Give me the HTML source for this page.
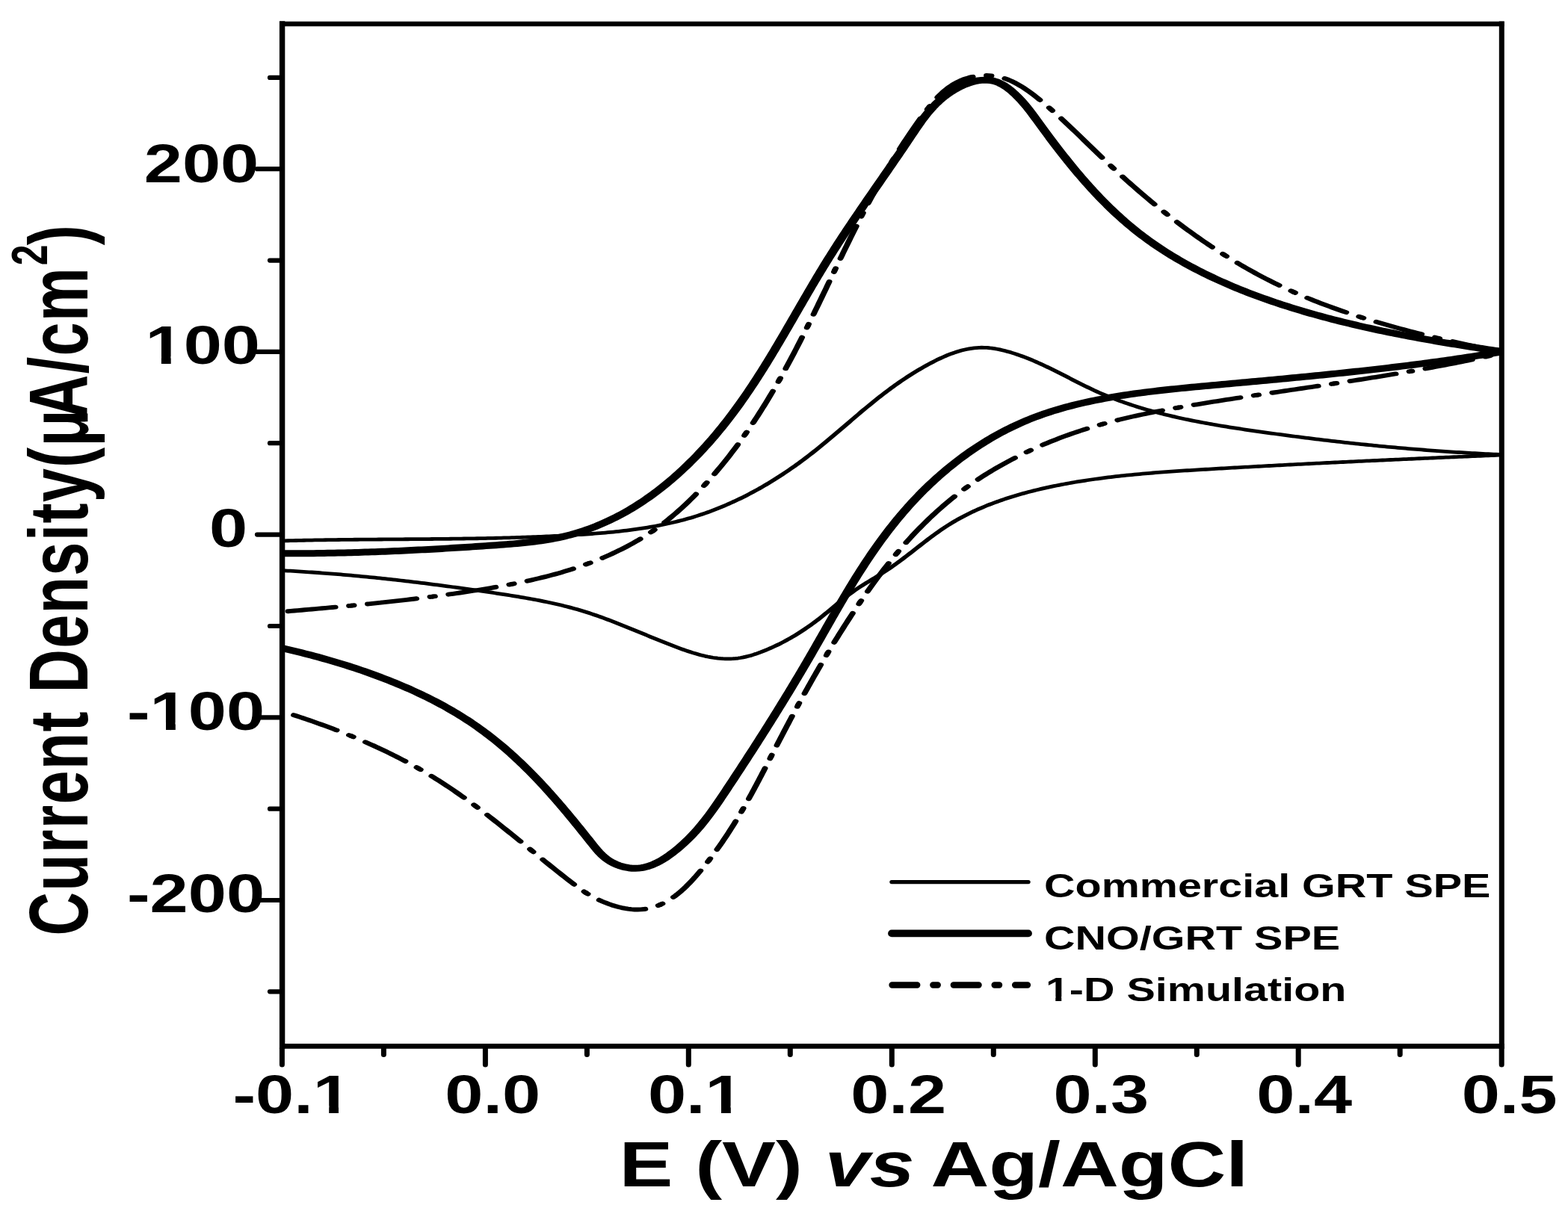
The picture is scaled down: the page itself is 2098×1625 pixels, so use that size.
<!DOCTYPE html><html><head><meta charset="utf-8"><style>html,body{margin:0;padding:0;background:#fff;overflow:hidden}svg{display:block}text{font-family:"Liberation Sans",Arial,sans-serif;font-weight:bold;fill:#000;font-kerning:none}</style></head><body>
<svg xmlns="http://www.w3.org/2000/svg" width="2098" height="1625" viewBox="0 0 2098 1625">
<rect width="2098" height="1625" fill="#fff"/>
<g stroke="#000" fill="none" stroke-linecap="square">
<line x1="377.6" y1="32" x2="2009.3" y2="32" stroke-width="6.4"/>
<line x1="377.6" y1="1400.3" x2="2009.3" y2="1400.3" stroke-width="6.8"/>
<line x1="377.6" y1="32" x2="377.6" y2="1400.3" stroke-width="7.4"/>
<line x1="2009.3" y1="32" x2="2009.3" y2="1400.3" stroke-width="7"/>
</g>
<g stroke="#000" fill="none" stroke-linecap="round">
<line x1="377.4" y1="1403" x2="377.4" y2="1425" stroke-width="7"/>
<line x1="649.4" y1="1403" x2="649.4" y2="1425" stroke-width="7"/>
<line x1="921.3" y1="1403" x2="921.3" y2="1425" stroke-width="7"/>
<line x1="1193.3" y1="1403" x2="1193.3" y2="1425" stroke-width="7"/>
<line x1="1465.3" y1="1403" x2="1465.3" y2="1425" stroke-width="7"/>
<line x1="1737.2" y1="1403" x2="1737.2" y2="1425" stroke-width="7"/>
<line x1="2009.2" y1="1403" x2="2009.2" y2="1425" stroke-width="7"/>
<line x1="513.4" y1="1403" x2="513.4" y2="1411.5" stroke-width="7"/>
<line x1="785.4" y1="1403" x2="785.4" y2="1411.5" stroke-width="7"/>
<line x1="1057.3" y1="1403" x2="1057.3" y2="1411.5" stroke-width="7"/>
<line x1="1329.3" y1="1403" x2="1329.3" y2="1411.5" stroke-width="7"/>
<line x1="1601.3" y1="1403" x2="1601.3" y2="1411.5" stroke-width="7"/>
<line x1="1873.2" y1="1403" x2="1873.2" y2="1411.5" stroke-width="7"/>
<line x1="344" y1="226.2" x2="377" y2="226.2" stroke-width="6.2"/>
<line x1="344" y1="470.9" x2="377" y2="470.9" stroke-width="6.2"/>
<line x1="344" y1="715.6" x2="377" y2="715.6" stroke-width="6.2"/>
<line x1="344" y1="960.3" x2="377" y2="960.3" stroke-width="6.2"/>
<line x1="344" y1="1205.0" x2="377" y2="1205.0" stroke-width="6.2"/>
<line x1="361" y1="103.9" x2="377" y2="103.9" stroke-width="6.2"/>
<line x1="361" y1="348.6" x2="377" y2="348.6" stroke-width="6.2"/>
<line x1="361" y1="593.2" x2="377" y2="593.2" stroke-width="6.2"/>
<line x1="361" y1="838.0" x2="377" y2="838.0" stroke-width="6.2"/>
<line x1="361" y1="1082.7" x2="377" y2="1082.7" stroke-width="6.2"/>
<line x1="361" y1="1327.3" x2="377" y2="1327.3" stroke-width="6.2"/>
</g>
<clipPath id="pc"><rect x="286.06" y="30" width="1236.14" height="1372"/></clipPath>
<g transform="scale(1.3200,1)"><g clip-path="url(#pc)" fill="none" stroke="#000" stroke-linejoin="round">
<path d="M286.32,723.96 L289.04,723.86 L291.77,723.76 L294.50,723.67 L297.22,723.58 L299.94,723.49 L302.67,723.41 L305.39,723.33 L308.11,723.25 L310.83,723.18 L313.54,723.11 L316.26,723.04 L318.98,722.97 L321.69,722.91 L324.41,722.85 L327.12,722.79 L329.83,722.74 L332.55,722.69 L335.26,722.64 L337.97,722.59 L340.68,722.54 L343.39,722.50 L346.10,722.45 L348.80,722.41 L351.51,722.37 L354.22,722.33 L356.92,722.30 L359.63,722.26 L362.33,722.23 L365.03,722.20 L367.74,722.17 L370.44,722.14 L373.14,722.11 L375.84,722.08 L378.54,722.05 L381.24,722.03 L383.94,722.00 L386.64,721.98 L389.34,721.95 L392.04,721.93 L394.74,721.90 L397.44,721.88 L400.13,721.86 L402.83,721.83 L405.53,721.81 L408.23,721.79 L410.92,721.76 L413.62,721.74 L416.31,721.72 L419.01,721.69 L421.70,721.67 L424.40,721.64 L427.09,721.61 L429.79,721.59 L432.48,721.56 L435.18,721.53 L437.87,721.50 L440.57,721.47 L443.26,721.43 L445.95,721.40 L448.65,721.36 L451.34,721.33 L454.04,721.29 L456.73,721.25 L459.43,721.21 L462.12,721.16 L464.81,721.12 L467.51,721.07 L470.20,721.02 L472.90,720.97 L475.59,720.92 L478.29,720.86 L480.98,720.80 L483.68,720.74 L486.38,720.68 L489.07,720.61 L491.77,720.54 L494.47,720.47 L497.16,720.40 L499.86,720.32 L502.56,720.24 L505.26,720.15 L507.95,720.07 L510.65,719.97 L513.35,719.88 L516.05,719.78 L518.75,719.68 L521.45,719.58 L524.15,719.47 L526.86,719.36 L529.56,719.24 L532.26,719.12 L534.96,718.99 L537.67,718.86 L540.37,718.73 L543.08,718.59 L545.78,718.45 L548.49,718.30 L551.20,718.15 L553.90,718.00 L556.61,717.84 L559.32,717.67 L562.03,717.50 L564.74,717.32 L567.46,717.14 L570.17,716.96 L572.88,716.77 L575.60,716.57 L578.31,716.37 L581.03,716.16 L583.74,715.94 L586.46,715.72 L589.18,715.49 L591.89,715.26 L594.61,715.01 L597.32,714.76 L600.04,714.50 L602.75,714.22 L605.46,713.94 L608.17,713.65 L610.88,713.34 L613.58,713.03 L616.28,712.70 L618.98,712.36 L621.68,712.01 L624.38,711.64 L627.07,711.26 L629.75,710.87 L632.44,710.46 L635.12,710.03 L637.79,709.59 L640.46,709.14 L643.13,708.66 L645.79,708.18 L648.44,707.67 L651.09,707.14 L653.74,706.60 L656.38,706.04 L659.01,705.46 L661.64,704.85 L664.26,704.23 L666.87,703.59 L669.47,702.93 L672.07,702.24 L674.66,701.53 L677.24,700.80 L679.82,700.05 L682.38,699.27 L684.94,698.47 L687.49,697.65 L690.03,696.80 L692.56,695.92 L695.08,695.02 L697.59,694.10 L700.10,693.14 L702.59,692.16 L705.07,691.15 L707.54,690.12 L710.00,689.06 L712.45,687.97 L714.89,686.86 L717.32,685.72 L719.74,684.56 L722.15,683.38 L724.55,682.17 L726.94,680.93 L729.32,679.68 L731.68,678.40 L734.04,677.09 L736.39,675.77 L738.72,674.42 L741.05,673.05 L743.36,671.66 L745.66,670.25 L747.96,668.82 L750.24,667.37 L752.51,665.90 L754.77,664.41 L757.02,662.90 L759.26,661.37 L761.49,659.82 L763.71,658.26 L765.91,656.67 L768.11,655.07 L770.29,653.45 L772.46,651.82 L774.63,650.16 L776.78,648.50 L778.92,646.81 L781.05,645.11 L783.16,643.40 L785.27,641.67 L787.36,639.93 L789.45,638.17 L791.52,636.40 L793.58,634.62 L795.63,632.82 L797.67,631.01 L799.70,629.19 L801.71,627.35 L803.71,625.50 L805.71,623.65 L807.69,621.78 L809.66,619.90 L811.61,618.01 L813.56,616.11 L815.49,614.20 L817.42,612.28 L819.33,610.36 L821.23,608.42 L823.12,606.48 L824.99,604.53 L826.86,602.57 L828.72,600.60 L830.57,598.63 L832.41,596.65 L834.25,594.67 L836.08,592.68 L837.90,590.69 L839.71,588.69 L841.52,586.69 L843.32,584.68 L845.12,582.68 L846.92,580.67 L848.71,578.65 L850.50,576.64 L852.29,574.62 L854.07,572.60 L855.86,570.59 L857.64,568.57 L859.43,566.55 L861.21,564.54 L862.99,562.52 L864.78,560.51 L866.57,558.49 L868.36,556.48 L870.15,554.48 L871.95,552.47 L873.75,550.47 L875.55,548.48 L877.36,546.49 L879.18,544.50 L881.00,542.52 L882.83,540.54 L884.66,538.57 L886.51,536.61 L888.36,534.65 L890.22,532.70 L892.09,530.76 L893.97,528.83 L895.86,526.91 L897.76,524.99 L899.67,523.09 L901.60,521.19 L903.54,519.31 L905.49,517.43 L907.45,515.57 L909.43,513.72 L911.42,511.88 L913.43,510.05 L915.45,508.24 L917.49,506.44 L919.55,504.65 L921.63,502.88 L923.72,501.12 L925.83,499.37 L927.96,497.65 L930.11,495.93 L932.28,494.24 L934.46,492.56 L936.68,490.89 L938.91,489.25 L941.16,487.62 L943.44,486.01 L945.74,484.43 L948.05,482.88 L950.39,481.36 L952.75,479.88 L955.13,478.44 L957.52,477.05 L959.94,475.72 L962.37,474.44 L964.81,473.22 L967.27,472.08 L969.75,471.00 L972.24,470.00 L974.74,469.09 L977.25,468.26 L979.78,467.52 L982.32,466.88 L984.87,466.34 L987.43,465.90 L989.99,465.57 L992.57,465.36 L995.15,465.27 L997.74,465.31 L1000.34,465.47 L1002.94,465.75 L1005.54,466.15 L1008.14,466.64 L1010.73,467.24 L1013.32,467.92 L1015.90,468.68 L1018.46,469.51 L1021.02,470.41 L1023.55,471.36 L1026.07,472.36 L1028.56,473.39 L1031.03,474.47 L1033.49,475.59 L1035.93,476.75 L1038.35,477.93 L1040.75,479.16 L1043.14,480.41 L1045.51,481.69 L1047.87,483.01 L1050.22,484.34 L1052.55,485.70 L1054.88,487.09 L1057.19,488.50 L1059.49,489.92 L1061.78,491.36 L1064.07,492.82 L1066.35,494.30 L1068.62,495.78 L1070.89,497.28 L1073.15,498.78 L1075.41,500.30 L1077.66,501.81 L1079.92,503.34 L1082.17,504.86 L1084.42,506.38 L1086.67,507.91 L1088.92,509.43 L1091.18,510.94 L1093.44,512.45 L1095.70,513.95 L1097.97,515.44 L1100.24,516.92 L1102.52,518.39 L1104.80,519.84 L1107.10,521.27 L1109.40,522.69 L1111.71,524.08 L1114.04,525.46 L1116.37,526.81 L1118.72,528.13 L1121.07,529.44 L1123.44,530.72 L1125.82,531.98 L1128.21,533.21 L1130.60,534.43 L1133.01,535.62 L1135.43,536.80 L1137.86,537.95 L1140.30,539.08 L1142.74,540.19 L1145.20,541.28 L1147.66,542.36 L1150.14,543.41 L1152.62,544.44 L1155.11,545.46 L1157.61,546.46 L1160.11,547.44 L1162.63,548.40 L1165.15,549.35 L1167.68,550.27 L1170.22,551.19 L1172.76,552.08 L1175.31,552.96 L1177.87,553.82 L1180.43,554.67 L1183.00,555.50 L1185.58,556.32 L1188.16,557.13 L1190.75,557.92 L1193.34,558.69 L1195.94,559.45 L1198.54,560.20 L1201.15,560.94 L1203.77,561.66 L1206.39,562.37 L1209.01,563.07 L1211.64,563.76 L1214.27,564.44 L1216.90,565.10 L1219.54,565.76 L1222.18,566.40 L1224.83,567.03 L1227.48,567.66 L1230.13,568.27 L1232.78,568.88 L1235.44,569.47 L1238.10,570.06 L1240.76,570.64 L1243.43,571.21 L1246.09,571.78 L1248.76,572.34 L1251.43,572.89 L1254.10,573.43 L1256.77,573.97 L1259.44,574.50 L1262.11,575.02 L1264.79,575.54 L1267.46,576.06 L1270.13,576.57 L1272.81,577.07 L1275.48,577.58 L1278.16,578.07 L1280.83,578.57 L1283.50,579.06 L1286.17,579.55 L1288.84,580.03 L1291.51,580.51 L1294.18,580.99 L1296.85,581.46 L1299.52,581.94 L1302.18,582.41 L1304.85,582.87 L1307.52,583.33 L1310.18,583.79 L1312.85,584.25 L1315.51,584.70 L1318.18,585.15 L1320.84,585.59 L1323.50,586.04 L1326.17,586.47 L1328.83,586.91 L1331.49,587.34 L1334.16,587.77 L1336.82,588.20 L1339.48,588.62 L1342.14,589.04 L1344.81,589.45 L1347.47,589.86 L1350.13,590.27 L1352.79,590.68 L1355.46,591.08 L1358.12,591.48 L1360.78,591.87 L1363.44,592.26 L1366.11,592.65 L1368.77,593.03 L1371.44,593.41 L1374.10,593.79 L1376.76,594.16 L1379.43,594.53 L1382.10,594.89 L1384.76,595.25 L1387.43,595.61 L1390.10,595.97 L1392.76,596.32 L1395.43,596.66 L1398.10,597.01 L1400.77,597.35 L1403.44,597.68 L1406.11,598.01 L1408.78,598.34 L1411.46,598.67 L1414.13,598.99 L1416.80,599.30 L1419.48,599.62 L1422.16,599.93 L1424.83,600.23 L1427.51,600.53 L1430.19,600.83 L1432.87,601.12 L1435.55,601.41 L1438.24,601.70 L1440.92,601.98 L1443.61,602.26 L1446.29,602.53 L1448.98,602.80 L1451.67,603.07 L1454.36,603.33 L1457.05,603.59 L1459.75,603.84 L1462.44,604.09 L1465.14,604.33 L1467.84,604.58 L1470.54,604.81 L1473.24,605.05 L1475.94,605.27 L1478.65,605.50 L1481.35,605.72 L1484.06,605.94 L1486.77,606.15 L1489.48,606.36 L1492.20,606.56 L1494.91,606.76 L1497.63,606.96 L1500.35,607.15 L1503.07,607.33 L1505.79,607.52 L1508.52,607.69 L1511.25,607.87 L1513.98,608.04 L1516.71,608.20 L1519.44,608.36 L1522.18,608.52" stroke-width="4.80"/>
<path d="M1522.00,609.05 L1519.31,609.20 L1516.63,609.35 L1513.94,609.50 L1511.26,609.65 L1508.57,609.80 L1505.89,609.94 L1503.21,610.09 L1500.52,610.24 L1497.84,610.39 L1495.16,610.54 L1492.47,610.69 L1489.79,610.84 L1487.11,611.00 L1484.43,611.15 L1481.75,611.30 L1479.06,611.45 L1476.38,611.60 L1473.70,611.75 L1471.02,611.91 L1468.34,612.06 L1465.66,612.21 L1462.98,612.37 L1460.30,612.52 L1457.62,612.67 L1454.94,612.83 L1452.26,612.98 L1449.58,613.14 L1446.91,613.29 L1444.23,613.45 L1441.55,613.60 L1438.87,613.76 L1436.19,613.92 L1433.51,614.07 L1430.84,614.23 L1428.16,614.39 L1425.48,614.55 L1422.81,614.71 L1420.13,614.87 L1417.45,615.03 L1414.78,615.19 L1412.10,615.35 L1409.42,615.51 L1406.75,615.67 L1404.07,615.83 L1401.39,615.99 L1398.72,616.15 L1396.04,616.32 L1393.37,616.48 L1390.69,616.64 L1388.02,616.81 L1385.34,616.97 L1382.66,617.14 L1379.99,617.31 L1377.31,617.47 L1374.64,617.64 L1371.96,617.81 L1369.29,617.98 L1366.61,618.14 L1363.94,618.31 L1361.26,618.48 L1358.59,618.65 L1355.91,618.82 L1353.24,619.00 L1350.57,619.17 L1347.89,619.34 L1345.22,619.51 L1342.54,619.69 L1339.87,619.86 L1337.19,620.04 L1334.52,620.21 L1331.84,620.39 L1329.17,620.57 L1326.49,620.74 L1323.82,620.92 L1321.14,621.10 L1318.47,621.28 L1315.79,621.46 L1313.12,621.64 L1310.44,621.82 L1307.77,622.01 L1305.09,622.19 L1302.42,622.37 L1299.74,622.56 L1297.07,622.74 L1294.39,622.93 L1291.72,623.11 L1289.04,623.30 L1286.37,623.49 L1283.69,623.68 L1281.01,623.87 L1278.34,624.06 L1275.66,624.25 L1272.99,624.44 L1270.31,624.63 L1267.63,624.83 L1264.96,625.02 L1262.28,625.21 L1259.60,625.41 L1256.93,625.61 L1254.25,625.80 L1251.57,626.00 L1248.90,626.20 L1246.22,626.40 L1243.54,626.60 L1240.86,626.80 L1238.18,627.01 L1235.51,627.21 L1232.83,627.41 L1230.15,627.62 L1227.47,627.82 L1224.79,628.03 L1222.11,628.24 L1219.43,628.45 L1216.75,628.66 L1214.07,628.87 L1211.39,629.09 L1208.71,629.30 L1206.03,629.52 L1203.36,629.74 L1200.68,629.97 L1198.00,630.20 L1195.32,630.43 L1192.64,630.67 L1189.97,630.91 L1187.29,631.15 L1184.61,631.40 L1181.94,631.66 L1179.26,631.92 L1176.59,632.18 L1173.92,632.45 L1171.24,632.73 L1168.57,633.01 L1165.90,633.30 L1163.23,633.59 L1160.56,633.90 L1157.90,634.21 L1155.23,634.52 L1152.56,634.85 L1149.90,635.18 L1147.24,635.52 L1144.58,635.86 L1141.92,636.22 L1139.26,636.59 L1136.60,636.96 L1133.95,637.35 L1131.29,637.74 L1128.64,638.14 L1125.99,638.55 L1123.34,638.98 L1120.70,639.41 L1118.05,639.86 L1115.41,640.31 L1112.77,640.78 L1110.13,641.26 L1107.49,641.75 L1104.86,642.25 L1102.22,642.77 L1099.59,643.29 L1096.96,643.83 L1094.34,644.38 L1091.72,644.95 L1089.09,645.53 L1086.48,646.12 L1083.86,646.73 L1081.25,647.35 L1078.64,647.99 L1076.03,648.64 L1073.42,649.31 L1070.82,649.99 L1068.23,650.68 L1065.63,651.40 L1063.05,652.13 L1060.46,652.87 L1057.88,653.63 L1055.31,654.41 L1052.75,655.21 L1050.19,656.03 L1047.63,656.86 L1045.09,657.71 L1042.55,658.58 L1040.02,659.47 L1037.49,660.38 L1034.98,661.30 L1032.47,662.25 L1029.98,663.22 L1027.49,664.20 L1025.01,665.21 L1022.55,666.24 L1020.09,667.29 L1017.64,668.36 L1015.21,669.46 L1012.79,670.57 L1010.38,671.71 L1007.98,672.87 L1005.59,674.05 L1003.22,675.26 L1000.86,676.49 L998.51,677.75 L996.18,679.02 L993.86,680.33 L991.56,681.66 L989.27,683.01 L987.00,684.39 L984.75,685.79 L982.51,687.22 L980.28,688.68 L978.07,690.16 L975.89,691.67 L973.71,693.20 L971.56,694.77 L969.42,696.36 L967.31,697.98 L965.21,699.63 L963.13,701.30 L961.07,703.01 L959.03,704.74 L957.00,706.50 L955.00,708.28 L953.01,710.09 L951.03,711.92 L949.07,713.76 L947.12,715.63 L945.17,717.51 L943.24,719.41 L941.32,721.31 L939.41,723.23 L937.50,725.16 L935.60,727.10 L933.70,729.04 L931.80,730.99 L929.91,732.94 L928.01,734.89 L926.12,736.85 L924.22,738.80 L922.33,740.74 L920.43,742.69 L918.52,744.62 L916.61,746.55 L914.69,748.47 L912.76,750.37 L910.82,752.26 L908.87,754.14 L906.91,756.00 L904.94,757.84 L902.95,759.66 L900.95,761.46 L898.93,763.24 L896.90,765.00 L894.85,766.73 L892.78,768.44 L890.71,770.13 L888.63,771.82 L886.55,773.50 L884.46,775.17 L882.38,776.84 L880.30,778.51 L878.23,780.19 L876.17,781.87 L874.12,783.57 L872.09,785.29 L870.07,787.02 L868.08,788.78 L866.11,790.57 L864.17,792.38 L862.25,794.22 L860.36,796.09 L858.48,797.97 L856.62,799.88 L854.78,801.81 L852.95,803.75 L851.13,805.70 L849.32,807.66 L847.52,809.63 L845.71,811.61 L843.91,813.58 L842.11,815.56 L840.31,817.54 L838.50,819.51 L836.68,821.47 L834.86,823.43 L833.02,825.37 L831.17,827.30 L829.30,829.21 L827.41,831.11 L825.51,832.99 L823.60,834.86 L821.66,836.70 L819.71,838.53 L817.74,840.34 L815.75,842.13 L813.74,843.90 L811.71,845.65 L809.66,847.38 L807.58,849.09 L805.49,850.77 L803.37,852.44 L801.24,854.08 L799.07,855.69 L796.89,857.28 L794.68,858.84 L792.44,860.38 L790.18,861.90 L787.89,863.38 L785.58,864.84 L783.24,866.27 L780.87,867.67 L778.47,869.04 L776.04,870.38 L773.59,871.68 L771.11,872.95 L768.61,874.16 L766.09,875.31 L763.55,876.39 L761.00,877.40 L758.44,878.32 L755.88,879.15 L753.30,879.89 L750.73,880.51 L748.15,881.02 L745.58,881.40 L743.01,881.68 L740.44,881.84 L737.88,881.90 L735.31,881.85 L732.75,881.71 L730.20,881.47 L727.65,881.15 L725.10,880.74 L722.56,880.24 L720.02,879.67 L717.49,879.03 L714.96,878.32 L712.44,877.54 L709.92,876.70 L707.41,875.81 L704.91,874.87 L702.41,873.87 L699.92,872.84 L697.44,871.76 L694.96,870.65 L692.49,869.50 L690.03,868.33 L687.58,867.14 L685.13,865.93 L682.70,864.70 L680.27,863.47 L677.85,862.22 L675.44,860.97 L673.04,859.71 L670.65,858.44 L668.26,857.17 L665.88,855.90 L663.50,854.62 L661.13,853.33 L658.76,852.05 L656.40,850.76 L654.04,849.48 L651.68,848.19 L649.33,846.91 L646.97,845.63 L644.62,844.35 L642.27,843.07 L639.92,841.80 L637.57,840.53 L635.22,839.27 L632.87,838.02 L630.51,836.77 L628.16,835.53 L625.80,834.30 L623.44,833.08 L621.07,831.88 L618.70,830.68 L616.32,829.49 L613.94,828.32 L611.55,827.17 L609.16,826.03 L606.76,824.90 L604.35,823.79 L601.94,822.70 L599.51,821.62 L597.08,820.56 L594.63,819.53 L592.18,818.51 L589.71,817.52 L587.24,816.55 L584.75,815.60 L582.25,814.67 L579.74,813.76 L577.22,812.88 L574.69,812.01 L572.15,811.17 L569.60,810.34 L567.05,809.54 L564.48,808.75 L561.90,807.98 L559.32,807.22 L556.73,806.49 L554.13,805.77 L551.53,805.06 L548.92,804.37 L546.30,803.69 L543.68,803.03 L541.05,802.37 L538.42,801.74 L535.78,801.11 L533.14,800.49 L530.50,799.89 L527.86,799.29 L525.21,798.71 L522.55,798.13 L519.90,797.56 L517.25,797.00 L514.59,796.44 L511.93,795.89 L509.28,795.35 L506.62,794.81 L503.96,794.28 L501.31,793.75 L498.65,793.23 L496.00,792.70 L493.35,792.18 L490.70,791.67 L488.05,791.16 L485.40,790.65 L482.75,790.14 L480.11,789.64 L477.46,789.14 L474.82,788.64 L472.17,788.15 L469.53,787.66 L466.89,787.17 L464.25,786.69 L461.61,786.21 L458.97,785.74 L456.33,785.26 L453.69,784.79 L451.06,784.33 L448.42,783.87 L445.78,783.41 L443.15,782.96 L440.51,782.51 L437.88,782.06 L435.24,781.62 L432.60,781.18 L429.97,780.74 L427.33,780.31 L424.70,779.88 L422.06,779.46 L419.43,779.04 L416.79,778.62 L414.15,778.21 L411.52,777.80 L408.88,777.40 L406.24,777.00 L403.60,776.60 L400.97,776.21 L398.33,775.82 L395.69,775.44 L393.05,775.06 L390.41,774.69 L387.76,774.32 L385.12,773.95 L382.48,773.59 L379.83,773.23 L377.19,772.88 L374.54,772.53 L371.89,772.18 L369.24,771.84 L366.59,771.51 L363.94,771.17 L361.29,770.85 L358.63,770.53 L355.98,770.21 L353.32,769.89 L350.66,769.59 L348.00,769.28 L345.34,768.98 L342.68,768.69 L340.01,768.40 L337.34,768.11 L334.67,767.83 L332.00,767.56 L329.33,767.29 L326.65,767.02 L323.98,766.76 L321.30,766.51 L318.62,766.26 L315.93,766.01 L313.25,765.77 L310.56,765.53 L307.87,765.30 L305.17,765.08 L302.48,764.86 L299.78,764.64 L297.08,764.43 L294.37,764.23 L291.66,764.03 L288.95,763.83 L286.24,763.64" stroke-width="4.80"/>
<path d="M286.32,740.86 L289.90,740.86 L293.47,740.86 L297.02,740.84 L300.57,740.82 L304.11,740.80 L307.63,740.76 L311.15,740.72 L314.66,740.68 L318.16,740.63 L321.65,740.57 L325.13,740.50 L328.61,740.43 L332.08,740.35 L335.54,740.27 L338.99,740.18 L342.44,740.09 L345.88,739.99 L349.31,739.88 L352.74,739.76 L356.17,739.65 L359.58,739.52 L363.00,739.39 L366.41,739.25 L369.82,739.11 L373.22,738.97 L376.62,738.81 L380.02,738.65 L383.41,738.49 L386.80,738.32 L390.19,738.15 L393.58,737.97 L396.97,737.78 L400.35,737.59 L403.74,737.39 L407.12,737.19 L410.51,736.99 L413.89,736.78 L417.28,736.56 L420.67,736.34 L424.05,736.11 L427.44,735.88 L430.84,735.65 L434.23,735.41 L437.63,735.16 L441.03,734.91 L444.43,734.66 L447.84,734.40 L451.25,734.13 L454.66,733.87 L458.08,733.59 L461.50,733.32 L464.93,733.04 L468.37,732.75 L471.81,732.46 L475.26,732.17 L478.71,731.87 L482.17,731.57 L485.64,731.26 L489.11,730.95 L492.60,730.64 L496.09,730.32 L499.59,730.00 L503.09,729.67 L506.61,729.34 L510.13,728.99 L513.65,728.64 L517.18,728.27 L520.70,727.88 L524.22,727.47 L527.74,727.03 L531.25,726.57 L534.75,726.08 L538.24,725.55 L541.72,724.99 L545.19,724.39 L548.64,723.75 L552.07,723.06 L555.49,722.32 L558.88,721.54 L562.25,720.70 L565.59,719.80 L568.91,718.84 L572.20,717.83 L575.46,716.76 L578.70,715.63 L581.90,714.44 L585.09,713.20 L588.24,711.90 L591.37,710.55 L594.47,709.15 L597.55,707.70 L600.59,706.19 L603.62,704.64 L606.62,703.04 L609.59,701.39 L612.53,699.69 L615.45,697.95 L618.35,696.16 L621.21,694.32 L624.06,692.45 L626.88,690.53 L629.67,688.57 L632.44,686.57 L635.18,684.54 L637.90,682.46 L640.59,680.35 L643.26,678.20 L645.91,676.01 L648.53,673.79 L651.12,671.54 L653.70,669.25 L656.24,666.93 L658.77,664.58 L661.27,662.20 L663.75,659.79 L666.20,657.36 L668.63,654.90 L671.04,652.41 L673.42,649.89 L675.78,647.35 L678.12,644.79 L680.43,642.21 L682.72,639.60 L684.99,636.98 L687.24,634.33 L689.46,631.67 L691.66,628.99 L693.84,626.29 L696.00,623.58 L698.14,620.85 L700.25,618.11 L702.34,615.35 L704.42,612.58 L706.47,609.80 L708.50,607.01 L710.50,604.20 L712.49,601.38 L714.46,598.55 L716.41,595.71 L718.35,592.85 L720.26,589.99 L722.15,587.11 L724.03,584.22 L725.89,581.32 L727.73,578.41 L729.55,575.49 L731.36,572.56 L733.15,569.62 L734.93,566.67 L736.69,563.71 L738.43,560.74 L740.16,557.77 L741.88,554.78 L743.58,551.78 L745.26,548.78 L746.93,545.77 L748.59,542.74 L750.24,539.72 L751.87,536.68 L753.49,533.64 L755.10,530.58 L756.70,527.53 L758.28,524.46 L759.85,521.39 L761.42,518.31 L762.97,515.22 L764.51,512.13 L766.05,509.04 L767.57,505.94 L769.08,502.83 L770.59,499.72 L772.08,496.60 L773.57,493.47 L775.05,490.35 L776.52,487.22 L777.99,484.08 L779.45,480.94 L780.90,477.80 L782.35,474.65 L783.79,471.50 L785.22,468.35 L786.65,465.19 L788.07,462.03 L789.49,458.87 L790.91,455.71 L792.32,452.54 L793.73,449.37 L795.13,446.20 L796.53,443.03 L797.93,439.86 L799.33,436.69 L800.72,433.51 L802.11,430.34 L803.51,427.16 L804.90,423.99 L806.28,420.81 L807.67,417.64 L809.06,414.47 L810.45,411.29 L811.84,408.12 L813.23,404.95 L814.62,401.78 L816.02,398.61 L817.41,395.44 L818.81,392.27 L820.21,389.11 L821.61,385.95 L823.02,382.79 L824.43,379.63 L825.84,376.48 L827.26,373.33 L828.68,370.19 L830.11,367.04 L831.54,363.90 L832.98,360.77 L834.43,357.64 L835.88,354.51 L837.33,351.39 L838.80,348.27 L840.27,345.16 L841.74,342.05 L843.23,338.95 L844.72,335.85 L846.21,332.76 L847.72,329.67 L849.23,326.58 L850.74,323.50 L852.26,320.42 L853.79,317.34 L855.32,314.27 L856.85,311.20 L858.39,308.14 L859.94,305.07 L861.49,302.01 L863.04,298.95 L864.60,295.90 L866.16,292.84 L867.73,289.79 L869.30,286.74 L870.87,283.69 L872.45,280.64 L874.02,277.59 L875.61,274.54 L877.19,271.50 L878.78,268.45 L880.36,265.40 L881.95,262.36 L883.55,259.31 L885.14,256.26 L886.74,253.22 L888.33,250.17 L889.93,247.12 L891.53,244.07 L893.13,241.02 L894.72,237.97 L896.32,234.92 L897.92,231.86 L899.52,228.80 L901.12,225.75 L902.72,222.68 L904.32,219.62 L905.91,216.55 L907.51,213.48 L909.10,210.41 L910.70,207.33 L912.29,204.26 L913.88,201.17 L915.46,198.09 L917.05,195.00 L918.63,191.90 L920.21,188.80 L921.79,185.70 L923.36,182.59 L924.94,179.48 L926.51,176.37 L928.10,173.26 L929.70,170.16 L931.32,167.07 L932.96,164.01 L934.63,160.96 L936.34,157.93 L938.09,154.94 L939.89,151.97 L941.74,149.05 L943.64,146.17 L945.60,143.33 L947.64,140.54 L949.74,137.80 L951.93,135.12 L954.19,132.50 L956.55,129.95 L959.00,127.47 L961.54,125.06 L964.20,122.72 L966.96,120.48 L969.82,118.33 L972.77,116.30 L975.79,114.41 L978.88,112.69 L982.02,111.16 L985.18,109.84 L988.37,108.76 L991.57,107.93 L994.76,107.38 L997.93,107.13 L1001.07,107.20 L1004.16,107.62 L1007.19,108.41 L1010.15,109.59 L1013.03,111.13 L1015.83,112.99 L1018.54,115.14 L1021.16,117.51 L1023.70,120.07 L1026.14,122.78 L1028.48,125.58 L1030.73,128.44 L1032.88,131.31 L1034.94,134.20 L1036.92,137.11 L1038.82,140.02 L1040.66,142.94 L1042.45,145.88 L1044.19,148.83 L1045.89,151.78 L1047.57,154.74 L1049.22,157.71 L1050.87,160.69 L1052.52,163.67 L1054.17,166.66 L1055.83,169.65 L1057.49,172.65 L1059.17,175.64 L1060.85,178.65 L1062.54,181.65 L1064.25,184.66 L1065.96,187.66 L1067.68,190.67 L1069.41,193.68 L1071.15,196.68 L1072.90,199.69 L1074.66,202.69 L1076.44,205.69 L1078.22,208.69 L1080.02,211.68 L1081.82,214.67 L1083.64,217.65 L1085.48,220.63 L1087.32,223.60 L1089.18,226.57 L1091.05,229.53 L1092.93,232.48 L1094.83,235.42 L1096.74,238.36 L1098.66,241.28 L1100.60,244.20 L1102.56,247.10 L1104.53,249.99 L1106.51,252.87 L1108.51,255.74 L1110.53,258.59 L1112.56,261.43 L1114.60,264.26 L1116.67,267.07 L1118.75,269.87 L1120.85,272.65 L1122.96,275.42 L1125.09,278.16 L1127.24,280.89 L1129.41,283.60 L1131.60,286.30 L1133.80,288.97 L1136.03,291.62 L1138.27,294.25 L1140.53,296.86 L1142.81,299.45 L1145.12,302.02 L1147.44,304.56 L1149.78,307.08 L1152.14,309.58 L1154.53,312.05 L1156.93,314.50 L1159.36,316.92 L1161.81,319.31 L1164.28,321.68 L1166.77,324.03 L1169.27,326.35 L1171.80,328.64 L1174.35,330.91 L1176.92,333.16 L1179.51,335.38 L1182.12,337.58 L1184.74,339.75 L1187.39,341.90 L1190.05,344.03 L1192.73,346.13 L1195.43,348.21 L1198.15,350.27 L1200.89,352.30 L1203.64,354.32 L1206.41,356.31 L1209.19,358.27 L1211.99,360.22 L1214.81,362.14 L1217.65,364.04 L1220.50,365.92 L1223.36,367.78 L1226.24,369.61 L1229.14,371.43 L1232.05,373.22 L1234.98,375.00 L1237.92,376.75 L1240.87,378.48 L1243.84,380.20 L1246.82,381.89 L1249.81,383.56 L1252.82,385.22 L1255.84,386.85 L1258.88,388.46 L1261.92,390.06 L1264.98,391.63 L1268.05,393.19 L1271.14,394.73 L1274.23,396.25 L1277.33,397.75 L1280.45,399.24 L1283.58,400.70 L1286.71,402.15 L1289.86,403.58 L1293.02,404.99 L1296.19,406.39 L1299.36,407.77 L1302.55,409.13 L1305.74,410.47 L1308.95,411.80 L1312.16,413.11 L1315.38,414.41 L1318.61,415.69 L1321.85,416.95 L1325.09,418.20 L1328.35,419.43 L1331.61,420.65 L1334.87,421.85 L1338.15,423.04 L1341.42,424.21 L1344.71,425.37 L1348.00,426.51 L1351.30,427.64 L1354.60,428.76 L1357.91,429.86 L1361.23,430.95 L1364.54,432.02 L1367.87,433.08 L1371.19,434.13 L1374.52,435.16 L1377.86,436.18 L1381.20,437.19 L1384.54,438.19 L1387.89,439.17 L1391.23,440.14 L1394.58,441.10 L1397.94,442.05 L1401.29,442.98 L1404.65,443.91 L1408.01,444.82 L1411.37,445.72 L1414.73,446.61 L1418.09,447.49 L1421.46,448.36 L1424.82,449.22 L1428.18,450.07 L1431.55,450.91 L1434.91,451.73 L1438.27,452.55 L1441.64,453.36 L1445.00,454.16 L1448.36,454.95 L1451.72,455.73 L1455.08,456.51 L1458.43,457.27 L1461.78,458.02 L1465.14,458.77 L1468.48,459.51 L1471.83,460.24 L1475.17,460.96 L1478.51,461.68 L1481.85,462.39 L1485.18,463.09 L1488.51,463.78 L1491.83,464.47 L1495.15,465.15 L1498.46,465.82 L1501.77,466.48 L1505.07,467.14 L1508.37,467.80 L1511.67,468.45 L1514.95,469.09 L1518.23,469.73 L1521.51,470.36" stroke-width="9.00"/>
<path d="M1522.34,470.83 L1518.92,471.59 L1515.51,472.34 L1512.09,473.08 L1508.68,473.81 L1505.28,474.53 L1501.87,475.25 L1498.47,475.95 L1495.07,476.65 L1491.68,477.34 L1488.28,478.03 L1484.89,478.70 L1481.50,479.37 L1478.12,480.03 L1474.74,480.68 L1471.36,481.32 L1467.98,481.96 L1464.60,482.59 L1461.23,483.21 L1457.85,483.83 L1454.48,484.44 L1451.11,485.04 L1447.75,485.64 L1444.38,486.23 L1441.02,486.81 L1437.65,487.39 L1434.29,487.96 L1430.93,488.52 L1427.58,489.08 L1424.22,489.63 L1420.86,490.18 L1417.51,490.72 L1414.15,491.26 L1410.80,491.79 L1407.45,492.32 L1404.09,492.84 L1400.74,493.35 L1397.39,493.87 L1394.04,494.37 L1390.69,494.87 L1387.34,495.37 L1383.99,495.86 L1380.64,496.35 L1377.29,496.84 L1373.94,497.32 L1370.59,497.79 L1367.24,498.27 L1363.89,498.74 L1360.54,499.20 L1357.19,499.66 L1353.84,500.12 L1350.49,500.58 L1347.14,501.03 L1343.78,501.48 L1340.43,501.93 L1337.07,502.37 L1333.72,502.81 L1330.36,503.25 L1327.00,503.69 L1323.64,504.12 L1320.28,504.55 L1316.92,504.98 L1313.55,505.41 L1310.19,505.83 L1306.82,506.26 L1303.45,506.68 L1300.08,507.10 L1296.71,507.52 L1293.33,507.94 L1289.95,508.35 L1286.58,508.77 L1283.19,509.19 L1279.81,509.60 L1276.42,510.01 L1273.04,510.43 L1269.65,510.84 L1266.25,511.25 L1262.86,511.66 L1259.46,512.07 L1256.05,512.49 L1252.65,512.90 L1249.24,513.31 L1245.83,513.72 L1242.42,514.14 L1239.00,514.55 L1235.58,514.96 L1232.15,515.38 L1228.73,515.79 L1225.30,516.21 L1221.86,516.63 L1218.42,517.05 L1214.98,517.47 L1211.54,517.90 L1208.10,518.33 L1204.65,518.77 L1201.21,519.21 L1197.76,519.66 L1194.32,520.12 L1190.87,520.59 L1187.43,521.06 L1183.99,521.54 L1180.54,522.04 L1177.11,522.54 L1173.67,523.06 L1170.24,523.58 L1166.81,524.12 L1163.38,524.68 L1159.96,525.25 L1156.54,525.83 L1153.13,526.43 L1149.73,527.05 L1146.33,527.68 L1142.93,528.34 L1139.55,529.01 L1136.17,529.70 L1132.80,530.41 L1129.44,531.14 L1126.08,531.89 L1122.74,532.67 L1119.40,533.47 L1116.08,534.29 L1112.76,535.13 L1109.46,536.01 L1106.16,536.90 L1102.88,537.83 L1099.61,538.78 L1096.35,539.76 L1093.11,540.77 L1089.88,541.80 L1086.66,542.87 L1083.46,543.97 L1080.27,545.10 L1077.09,546.26 L1073.93,547.46 L1070.79,548.69 L1067.67,549.95 L1064.56,551.25 L1061.46,552.59 L1058.39,553.96 L1055.33,555.37 L1052.29,556.81 L1049.27,558.30 L1046.27,559.82 L1043.29,561.39 L1040.33,562.99 L1037.39,564.64 L1034.47,566.32 L1031.57,568.05 L1028.69,569.81 L1025.83,571.60 L1022.99,573.44 L1020.17,575.31 L1017.37,577.22 L1014.59,579.16 L1011.83,581.13 L1009.09,583.14 L1006.38,585.18 L1003.68,587.25 L1001.00,589.36 L998.35,591.49 L995.71,593.66 L993.10,595.85 L990.50,598.08 L987.93,600.33 L985.38,602.61 L982.85,604.92 L980.34,607.25 L977.85,609.61 L975.39,612.00 L972.94,614.41 L970.51,616.85 L968.11,619.30 L965.73,621.79 L963.37,624.29 L961.03,626.81 L958.71,629.36 L956.42,631.93 L954.14,634.51 L951.89,637.12 L949.66,639.74 L947.45,642.38 L945.26,645.04 L943.09,647.71 L940.95,650.40 L938.83,653.11 L936.72,655.83 L934.65,658.57 L932.59,661.32 L930.56,664.08 L928.54,666.85 L926.55,669.64 L924.58,672.44 L922.63,675.24 L920.71,678.07 L918.80,680.90 L916.91,683.74 L915.04,686.60 L913.19,689.46 L911.36,692.34 L909.55,695.23 L907.75,698.13 L905.97,701.03 L904.21,703.95 L902.47,706.88 L900.74,709.81 L899.03,712.76 L897.34,715.71 L895.66,718.67 L893.99,721.65 L892.34,724.63 L890.71,727.61 L889.09,730.61 L887.48,733.61 L885.89,736.62 L884.30,739.64 L882.73,742.67 L881.18,745.70 L879.63,748.74 L878.10,751.79 L876.58,754.84 L875.06,757.90 L873.56,760.96 L872.07,764.03 L870.59,767.10 L869.12,770.18 L867.65,773.27 L866.20,776.36 L864.75,779.45 L863.31,782.55 L861.88,785.66 L860.45,788.77 L859.04,791.88 L857.63,794.99 L856.22,798.11 L854.82,801.23 L853.43,804.36 L852.04,807.48 L850.65,810.61 L849.27,813.75 L847.89,816.88 L846.52,820.02 L845.15,823.16 L843.78,826.30 L842.42,829.44 L841.05,832.58 L839.69,835.73 L838.33,838.87 L836.97,842.01 L835.61,845.16 L834.26,848.31 L832.90,851.45 L831.54,854.60 L830.18,857.74 L828.82,860.88 L827.45,864.03 L826.09,867.17 L824.72,870.31 L823.35,873.45 L821.98,876.59 L820.61,879.72 L819.23,882.86 L817.84,885.99 L816.46,889.12 L815.07,892.24 L813.67,895.37 L812.28,898.49 L810.88,901.61 L809.47,904.73 L808.06,907.85 L806.65,910.97 L805.24,914.08 L803.82,917.19 L802.40,920.30 L800.98,923.41 L799.55,926.52 L798.12,929.62 L796.69,932.73 L795.25,935.83 L793.81,938.93 L792.37,942.02 L790.92,945.12 L789.48,948.21 L788.02,951.31 L786.57,954.40 L785.11,957.49 L783.65,960.58 L782.19,963.66 L780.73,966.75 L779.26,969.83 L777.79,972.91 L776.31,975.99 L774.84,979.07 L773.36,982.15 L771.88,985.23 L770.40,988.30 L768.91,991.37 L767.42,994.45 L765.93,997.52 L764.44,1000.59 L762.94,1003.65 L761.44,1006.72 L759.94,1009.79 L758.44,1012.85 L756.94,1015.91 L755.43,1018.97 L753.92,1022.03 L752.41,1025.09 L750.90,1028.15 L749.38,1031.21 L747.86,1034.26 L746.35,1037.32 L744.82,1040.37 L743.30,1043.42 L741.78,1046.48 L740.25,1049.53 L738.72,1052.58 L737.19,1055.62 L735.66,1058.67 L734.13,1061.72 L732.59,1064.76 L731.04,1067.80 L729.49,1070.84 L727.92,1073.87 L726.34,1076.89 L724.75,1079.90 L723.14,1082.91 L721.51,1085.90 L719.86,1088.89 L718.18,1091.86 L716.48,1094.81 L714.75,1097.76 L712.98,1100.68 L711.19,1103.59 L709.36,1106.48 L707.50,1109.35 L705.59,1112.20 L703.64,1115.02 L701.65,1117.83 L699.62,1120.61 L697.54,1123.36 L695.40,1126.09 L693.22,1128.79 L690.98,1131.46 L688.68,1134.10 L686.32,1136.71 L683.91,1139.28 L681.43,1141.83 L678.89,1144.31 L676.29,1146.73 L673.62,1149.04 L670.90,1151.25 L668.12,1153.31 L665.28,1155.21 L662.39,1156.94 L659.44,1158.46 L656.43,1159.77 L653.38,1160.82 L650.27,1161.62 L647.11,1162.13 L643.89,1162.33 L640.63,1162.21 L637.33,1161.74 L634.03,1160.96 L630.75,1159.89 L627.53,1158.54 L624.42,1156.94 L621.44,1155.12 L618.64,1153.09 L616.03,1150.87 L613.61,1148.50 L611.36,1145.98 L609.24,1143.35 L607.24,1140.61 L605.33,1137.79 L603.49,1134.91 L601.70,1131.99 L599.92,1129.04 L598.15,1126.10 L596.37,1123.15 L594.59,1120.21 L592.81,1117.27 L591.02,1114.32 L589.23,1111.38 L587.43,1108.45 L585.63,1105.51 L583.82,1102.58 L582.01,1099.65 L580.19,1096.72 L578.36,1093.80 L576.53,1090.88 L574.69,1087.97 L572.84,1085.06 L570.99,1082.16 L569.12,1079.27 L567.25,1076.38 L565.37,1073.50 L563.48,1070.62 L561.58,1067.76 L559.67,1064.90 L557.75,1062.05 L555.82,1059.21 L553.88,1056.38 L551.93,1053.56 L549.96,1050.74 L547.98,1047.94 L546.00,1045.15 L543.99,1042.37 L541.98,1039.61 L539.95,1036.85 L537.91,1034.11 L535.86,1031.38 L533.79,1028.66 L531.70,1025.96 L529.60,1023.27 L527.49,1020.60 L525.36,1017.94 L523.21,1015.29 L521.05,1012.66 L518.87,1010.05 L516.67,1007.46 L514.46,1004.88 L512.23,1002.32 L509.98,999.77 L507.71,997.25 L505.42,994.74 L503.11,992.25 L500.79,989.78 L498.44,987.33 L496.08,984.90 L493.69,982.49 L491.29,980.11 L488.86,977.74 L486.41,975.39 L483.94,973.07 L481.44,970.77 L478.93,968.49 L476.39,966.24 L473.83,964.01 L471.24,961.80 L468.64,959.62 L466.01,957.46 L463.35,955.32 L460.68,953.21 L457.99,951.12 L455.27,949.05 L452.54,947.01 L449.78,944.99 L447.01,942.99 L444.21,941.01 L441.40,939.06 L438.57,937.13 L435.73,935.22 L432.86,933.34 L429.98,931.48 L427.08,929.64 L424.17,927.82 L421.24,926.02 L418.30,924.24 L415.34,922.49 L412.36,920.76 L409.38,919.04 L406.38,917.35 L403.37,915.69 L400.34,914.04 L397.30,912.41 L394.25,910.80 L391.19,909.22 L388.12,907.65 L385.04,906.11 L381.95,904.59 L378.85,903.08 L375.74,901.60 L372.62,900.13 L369.49,898.69 L366.36,897.27 L363.22,895.86 L360.07,894.48 L356.91,893.11 L353.75,891.76 L350.58,890.44 L347.41,889.13 L344.23,887.84 L341.05,886.57 L337.87,885.32 L334.68,884.09 L331.48,882.87 L328.29,881.68 L325.09,880.50 L321.89,879.34 L318.69,878.20 L315.49,877.08 L312.29,875.97 L309.09,874.89 L305.88,873.82 L302.68,872.77 L299.48,871.73 L296.28,870.71 L293.09,869.71 L289.89,868.73 L286.70,867.77" stroke-width="9.00"/>
<path d="M287.86,818.69 L291.37,818.30 L294.89,817.90 L298.40,817.50 L301.91,817.10 L305.42,816.70 L308.94,816.30 L312.45,815.89 L315.96,815.49 L319.47,815.08 L322.98,814.67 L326.49,814.25 L330.00,813.84 L333.51,813.42 L337.02,812.99 L340.53,812.57 L344.03,812.14 L347.54,811.71 L351.05,811.27 L354.55,810.83 L356.31,810.61" stroke-width="5.90" stroke-linecap="round" stroke-dasharray="5.00 14.00 48.20 14.00" stroke-dashoffset="14.78"/>
<path d="M356.31,810.61 L359.81,810.16 L363.31,809.71 L366.82,809.25 L370.32,808.79 L373.82,808.32 L377.32,807.85 L380.82,807.38 L384.32,806.89 L387.82,806.40 L391.32,805.91 L394.81,805.41 L398.31,804.90 L401.80,804.39 L405.30,803.87 L408.79,803.34 L412.28,802.81 L415.77,802.27 L419.26,801.72 L422.75,801.17 L426.23,800.60 L429.72,800.03 L433.20,799.45 L436.68,798.86 L438.42,798.56" stroke-width="5.90" stroke-linecap="round" stroke-dasharray="5.00 14.00 50.00 14.00" stroke-dashoffset="2.50"/>
<path d="M438.42,798.56 L441.90,797.96 L445.38,797.35 L448.86,796.74 L452.34,796.11 L455.81,795.47 L459.28,794.82 L462.76,794.17 L466.23,793.50 L469.69,792.83 L473.16,792.14 L476.63,791.44 L480.09,790.73 L483.55,790.02 L487.01,789.29 L490.47,788.55 L493.92,787.79 L497.38,787.03 L500.83,786.25 L504.27,785.45 L507.71,784.64 L511.15,783.81 L514.58,782.96 L518.01,782.10 L518.58,781.96" stroke-width="5.90" stroke-linecap="round" stroke-dasharray="5.00 14.00 48.88 14.00" stroke-dashoffset="2.50"/>
<path d="M518.58,781.96 L522.00,781.07 L525.42,780.16 L528.83,779.23 L532.23,778.28 L535.62,777.31 L539.01,776.32 L542.39,775.30 L545.76,774.25 L549.12,773.18 L552.48,772.08 L555.82,770.95 L559.15,769.80 L562.48,768.61 L565.79,767.40 L569.09,766.15 L572.38,764.87 L575.66,763.56 L578.92,762.21 L582.17,760.83 L585.41,759.42 L588.64,757.96 L591.85,756.48 L595.05,754.95 L596.11,754.44" stroke-width="5.90" stroke-linecap="round" stroke-dasharray="5.00 14.00 49.41 14.00" stroke-dashoffset="2.50"/>
<path d="M596.11,754.44 L599.28,752.87 L602.44,751.26 L605.58,749.62 L608.70,747.94 L611.80,746.22 L614.88,744.47 L617.94,742.68 L620.98,740.86 L623.99,739.00 L626.98,737.11 L629.95,735.17 L632.89,733.21 L635.81,731.20 L638.70,729.16 L641.56,727.09 L644.40,724.97 L647.21,722.82 L649.98,720.64 L652.73,718.42 L655.44,716.16 L658.13,713.86 L660.78,711.53 L661.65,710.74" stroke-width="5.90" stroke-linecap="round" stroke-dasharray="5.00 14.00 46.03 14.00" stroke-dashoffset="2.50"/>
<path d="M661.65,710.74 L664.26,708.36 L666.83,705.95 L669.37,703.50 L671.88,701.02 L674.36,698.50 L676.81,695.96 L679.22,693.38 L681.61,690.77 L683.97,688.14 L686.30,685.48 L688.61,682.80 L690.89,680.09 L693.14,677.36 L695.37,674.61 L697.57,671.83 L699.75,669.04 L701.90,666.23 L704.03,663.40 L706.14,660.55 L708.23,657.69 L710.30,654.81 L712.35,651.92 L714.37,649.02 L715.05,648.05" stroke-width="5.90" stroke-linecap="round" stroke-dasharray="5.00 14.00 49.53 14.00" stroke-dashoffset="2.50"/>
<path d="M715.05,648.05 L717.05,645.14 L719.03,642.21 L721.00,639.28 L722.95,636.33 L724.88,633.37 L726.79,630.41 L728.69,627.43 L730.57,624.45 L732.43,621.45 L734.27,618.45 L736.10,615.44 L737.92,612.42 L739.71,609.39 L741.49,606.35 L743.26,603.30 L745.01,600.24 L746.74,597.18 L748.46,594.11 L750.16,591.02 L751.85,587.94 L753.53,584.84 L755.19,581.73 L755.74,580.70" stroke-width="5.90" stroke-linecap="round" stroke-dasharray="5.00 14.00 45.74 14.00" stroke-dashoffset="2.50"/>
<path d="M755.74,580.70 L757.39,577.58 L759.02,574.46 L760.63,571.33 L762.23,568.20 L763.82,565.05 L765.40,561.90 L766.97,558.75 L768.52,555.58 L770.06,552.41 L771.59,549.24 L773.10,546.06 L774.61,542.87 L776.10,539.67 L777.59,536.47 L779.06,533.27 L780.52,530.06 L781.97,526.84 L783.41,523.62 L784.84,520.39 L786.27,517.16 L787.68,513.92 L789.08,510.68 L790.01,508.52" stroke-width="5.90" stroke-linecap="round" stroke-dasharray="5.00 14.00 46.92 14.00" stroke-dashoffset="2.50"/>
<path d="M790.01,508.52 L791.40,505.27 L792.78,502.02 L794.15,498.76 L795.51,495.50 L796.86,492.23 L798.21,488.96 L799.55,485.69 L800.88,482.41 L802.20,479.13 L803.52,475.85 L804.83,472.56 L806.13,469.27 L807.43,465.98 L808.72,462.68 L810.00,459.39 L811.28,456.09 L812.55,452.78 L813.82,449.48 L815.09,446.17 L816.34,442.86 L817.60,439.55 L818.85,436.24" stroke-width="5.90" stroke-linecap="round" stroke-dasharray="5.00 14.00 44.83 14.00" stroke-dashoffset="2.50"/>
<path d="M818.85,436.24 L820.09,432.92 L821.33,429.60 L822.57,426.29 L823.80,422.97 L825.03,419.65 L826.26,416.33 L827.48,413.01 L828.70,409.68 L829.92,406.36 L831.14,403.04 L832.35,399.71 L833.57,396.39 L834.78,393.07 L835.99,389.74 L837.20,386.42 L838.40,383.10 L839.61,379.78 L840.82,376.45 L842.02,373.13 L843.23,369.81 L844.43,366.49 L845.64,363.18 L846.24,361.52" stroke-width="5.90" stroke-linecap="round" stroke-dasharray="5.00 14.00 46.58 14.00" stroke-dashoffset="2.50"/>
<path d="M846.24,361.52 L847.45,358.20 L848.65,354.89 L849.86,351.57 L851.07,348.26 L852.28,344.95 L853.50,341.65 L854.71,338.34 L855.93,335.04 L857.15,331.74 L858.37,328.44 L859.59,325.15 L860.82,321.86 L862.05,318.57 L863.29,315.28 L864.52,312.00 L865.76,308.72 L867.01,305.44 L868.26,302.17 L869.51,298.90 L870.77,295.64 L872.04,292.37 L873.31,289.12 L874.58,285.86 L875.86,282.61 L877.15,279.36 L878.45,276.12 L879.75,272.87 L881.05,269.64 L882.37,266.40 L883.70,263.16 L885.03,259.93 L886.37,256.70 L887.72,253.47 L889.08,250.25 L890.44,247.02 L891.82,243.80 L893.21,240.58 L894.61,237.36 L896.02,234.14 L897.44,230.92 L898.87,227.71 L900.32,224.49 L901.77,221.28 L903.24,218.07 L904.72,214.85 L906.21,211.64 L907.72,208.43 L909.24,205.22 L910.77,202.01 L912.32,198.79 L913.89,195.58 L915.46,192.37 L917.06,189.16 L918.66,185.95 L920.29,182.73 L921.93,179.52 L923.59,176.30 L925.26,173.09 L926.95,169.87 L928.66,166.65 L930.38,163.43 L932.13,160.21 L933.89,156.99 L935.67,153.77 L937.48,150.55 L939.31,147.36 L941.17,144.19 L943.07,141.05 L945.01,137.96 L947.00,134.93 L949.04,131.97 L951.13,129.08 L953.29,126.28 L955.50,123.57 L957.79,120.97 L960.15,118.48 L962.59,116.12 L965.11,113.90 L967.71,111.82 L970.41,109.89 L973.21,108.13 L976.10,106.54 L979.10,105.13 L982.22,103.92 L985.44,102.91 L988.75,102.11 L992.13,101.52 L995.56,101.16 L999.02,101.03 L1002.50,101.14 L1005.96,101.49 L1009.40,102.08 L1012.79,102.94 L1016.11,104.06 L1019.36,105.42 L1022.53,107.01 L1025.63,108.79 L1028.65,110.74 L1031.60,112.83 L1034.47,115.04 L1037.27,117.34 L1039.99,119.72 L1042.66,122.16 L1045.26,124.65 L1047.81,127.20 L1050.31,129.78 L1052.78,132.39 L1055.21,135.02 L1057.62,137.67 L1060.00,140.32 L1062.36,142.99 L1064.70,145.66 L1065.09,146.11" stroke-width="5.90" stroke-linecap="round" stroke-dasharray="5.00 14.00 46.19 14.00" stroke-dashoffset="2.50"/>
<path d="M1065.09,146.11 L1067.40,148.79 L1069.70,151.49 L1071.98,154.19 L1074.24,156.90 L1076.49,159.62 L1078.72,162.34 L1080.94,165.07 L1083.15,167.81 L1085.34,170.54 L1087.53,173.29 L1089.71,176.04 L1091.88,178.79 L1094.05,181.54 L1096.21,184.30 L1098.37,187.06 L1100.53,189.82 L1102.68,192.58 L1104.84,195.34 L1107.00,198.10 L1109.16,200.86 L1111.32,203.62 L1113.49,206.38 L1115.66,209.13 L1117.85,211.89 L1120.04,214.64 L1122.24,217.38 L1124.45,220.12 L1126.66,222.86 L1127.41,223.77" stroke-width="5.90" stroke-linecap="round" stroke-dasharray="5.00 14.00 66.58 14.00" stroke-dashoffset="2.50"/>
<path d="M1127.41,223.77 L1129.64,226.51 L1131.87,229.23 L1134.12,231.96 L1136.38,234.67 L1138.65,237.39 L1140.92,240.09 L1143.21,242.79 L1145.50,245.49 L1147.81,248.18 L1150.12,250.86 L1152.45,253.53 L1154.78,256.20 L1157.13,258.86 L1159.48,261.51 L1161.84,264.15 L1164.22,266.79 L1166.60,269.42 L1169.00,272.03 L1171.40,274.64 L1173.82,277.24 L1176.24,279.83 L1178.68,282.41 L1181.12,284.99 L1181.53,285.41" stroke-width="5.90" stroke-linecap="round" stroke-dasharray="5.00 14.00 49.05 14.00" stroke-dashoffset="2.50"/>
<path d="M1181.53,285.41 L1183.99,287.97 L1186.46,290.52 L1188.94,293.06 L1191.43,295.58 L1193.93,298.10 L1196.45,300.60 L1198.97,303.09 L1201.51,305.57 L1204.05,308.04 L1206.61,310.49 L1209.18,312.93 L1211.76,315.36 L1214.35,317.77 L1216.95,320.17 L1219.57,322.56 L1222.19,324.93 L1224.83,327.29 L1227.48,329.63 L1230.14,331.96 L1232.82,334.27 L1235.50,336.57 L1238.20,338.85 L1240.91,341.11 L1241.36,341.49" stroke-width="5.90" stroke-linecap="round" stroke-dasharray="5.00 14.00 49.05 14.00" stroke-dashoffset="2.50"/>
<path d="M1241.36,341.49 L1244.09,343.74 L1246.82,345.97 L1249.57,348.18 L1252.33,350.37 L1255.11,352.55 L1257.89,354.71 L1260.69,356.85 L1263.50,358.98 L1266.33,361.09 L1269.16,363.17 L1272.01,365.24 L1274.88,367.29 L1277.75,369.32 L1280.64,371.33 L1283.54,373.32 L1286.46,375.29 L1289.39,377.24 L1292.33,379.17 L1295.28,381.08 L1298.25,382.96 L1301.23,384.83 L1304.23,386.67 L1307.24,388.49 L1310.26,390.29 L1310.77,390.59" stroke-width="5.90" stroke-linecap="round" stroke-dasharray="5.00 14.00 52.11 14.00" stroke-dashoffset="2.50"/>
<path d="M1310.77,390.59 L1313.81,392.36 L1316.86,394.11 L1319.92,395.84 L1323.00,397.55 L1326.09,399.24 L1329.20,400.90 L1332.31,402.55 L1335.44,404.17 L1338.58,405.78 L1341.73,407.36 L1344.89,408.93 L1348.06,410.47 L1351.24,412.00 L1354.43,413.51 L1357.63,415.00 L1360.85,416.47 L1364.07,417.92 L1367.30,419.36 L1370.54,420.78 L1373.78,422.18 L1377.04,423.56 L1379.76,424.70" stroke-width="5.90" stroke-linecap="round" stroke-dasharray="5.00 14.00 44.03 14.00" stroke-dashoffset="2.50"/>
<path d="M1379.76,424.70 L1383.03,426.06 L1386.31,427.39 L1389.60,428.72 L1392.89,430.02 L1396.19,431.31 L1399.50,432.59 L1402.81,433.85 L1406.13,435.09 L1409.45,436.33 L1412.78,437.54 L1416.12,438.75 L1419.46,439.94 L1422.80,441.11 L1426.16,442.28 L1429.51,443.43 L1432.87,444.57 L1436.23,445.69 L1439.60,446.81 L1442.97,447.91 L1446.34,449.00 L1449.71,450.08 L1453.09,451.15 L1456.47,452.20 L1459.85,453.25 L1463.23,454.29 L1466.62,455.32 L1470.00,456.33 L1473.39,457.34 L1476.78,458.34 L1480.16,459.33 L1483.55,460.31 L1486.94,461.28 L1490.33,462.25 L1493.71,463.21 L1497.10,464.16 L1500.48,465.10 L1503.87,466.03 L1507.25,466.96 L1510.63,467.88 L1514.00,468.80 L1517.38,469.71 L1520.75,470.61 L1520.40,473.28 L1517.16,474.26 L1513.92,475.22 L1510.67,476.17 L1507.42,477.11 L1504.17,478.04 L1500.91,478.97 L1497.65,479.88 L1494.39,480.79 L1491.13,481.68 L1487.86,482.57 L1484.59,483.45 L1481.32,484.32 L1478.05,485.19 L1474.78,486.04 L1471.50,486.89 L1468.22,487.73 L1464.94,488.56 L1461.65,489.38 L1458.37,490.20 L1455.08,491.01 L1451.79,491.81 L1448.50,492.61 L1445.20,493.40 L1441.91,494.18 L1438.61,494.95 L1435.31,495.73 L1432.01,496.49 L1430.91,496.74" stroke-width="5.90" stroke-linecap="round" stroke-dasharray="5.00 14.00 48.89 14.00" stroke-dashoffset="2.50"/>
<path d="M1430.91,496.74 L1427.60,497.50 L1424.30,498.25 L1420.99,499.00 L1417.68,499.74 L1414.37,500.47 L1411.06,501.20 L1407.75,501.92 L1404.43,502.65 L1401.11,503.36 L1397.80,504.07 L1394.48,504.78 L1391.16,505.48 L1387.84,506.18 L1384.52,506.88 L1381.19,507.57 L1377.87,508.26 L1374.54,508.94 L1371.22,509.62 L1367.89,510.30 L1364.56,510.98 L1361.23,511.65 L1357.91,512.32 L1354.58,512.99 L1352.35,513.43" stroke-width="5.90" stroke-linecap="round" stroke-dasharray="5.00 14.00 47.31 14.00" stroke-dashoffset="2.50"/>
<path d="M1352.35,513.43 L1349.02,514.10 L1345.69,514.76 L1342.36,515.42 L1339.03,516.08 L1335.69,516.74 L1332.36,517.40 L1329.02,518.05 L1325.69,518.71 L1322.35,519.36 L1319.02,520.01 L1315.68,520.67 L1312.35,521.32 L1309.01,521.97 L1305.67,522.62 L1302.34,523.27 L1299.00,523.93 L1295.67,524.58 L1292.33,525.23 L1288.99,525.89 L1285.66,526.54 L1282.32,527.20 L1278.99,527.85 L1275.65,528.51 L1273.43,528.95" stroke-width="5.90" stroke-linecap="round" stroke-dasharray="5.00 14.00 47.44 14.00" stroke-dashoffset="2.50"/>
<path d="M1273.43,528.95 L1270.09,529.61 L1266.76,530.28 L1263.43,530.94 L1260.09,531.61 L1256.76,532.28 L1253.43,532.95 L1250.10,533.62 L1246.77,534.30 L1243.44,534.98 L1240.11,535.66 L1236.78,536.35 L1233.45,537.04 L1230.12,537.73 L1226.80,538.43 L1223.47,539.13 L1220.15,539.83 L1216.83,540.54 L1213.51,541.26 L1210.19,541.98 L1206.87,542.71 L1203.56,543.44 L1200.24,544.19 L1196.93,544.94 L1194.18,545.58" stroke-width="5.90" stroke-linecap="round" stroke-dasharray="5.00 14.00 47.98 14.00" stroke-dashoffset="2.50"/>
<path d="M1194.18,545.58 L1190.87,546.35 L1187.57,547.13 L1184.27,547.92 L1180.98,548.72 L1177.69,549.54 L1174.40,550.37 L1171.12,551.21 L1167.84,552.07 L1164.56,552.94 L1161.29,553.83 L1158.03,554.73 L1154.77,555.65 L1151.52,556.58 L1148.27,557.54 L1145.02,558.51 L1141.78,559.50 L1138.55,560.51 L1135.33,561.54 L1132.11,562.60 L1128.90,563.67 L1125.69,564.77 L1122.49,565.88 L1119.30,567.02 L1117.18,567.80" stroke-width="5.90" stroke-linecap="round" stroke-dasharray="5.00 14.00 47.19 14.00" stroke-dashoffset="2.50"/>
<path d="M1117.18,567.80 L1114.00,568.98 L1110.83,570.19 L1107.67,571.42 L1104.51,572.68 L1101.36,573.96 L1098.23,575.27 L1095.10,576.61 L1091.98,577.97 L1088.87,579.37 L1085.77,580.78 L1082.68,582.23 L1079.60,583.70 L1076.53,585.19 L1073.48,586.71 L1070.43,588.26 L1067.40,589.83 L1064.38,591.43 L1061.38,593.05 L1058.39,594.70 L1055.41,596.38 L1052.44,598.08 L1049.49,599.80 L1046.56,601.55 L1043.64,603.32 L1042.67,603.92" stroke-width="5.90" stroke-linecap="round" stroke-dasharray="5.00 14.00 49.94 14.00" stroke-dashoffset="2.50"/>
<path d="M1042.67,603.92 L1039.78,605.72 L1036.89,607.55 L1034.03,609.41 L1031.18,611.28 L1028.35,613.19 L1025.54,615.11 L1022.74,617.06 L1019.97,619.03 L1017.21,621.03 L1014.47,623.05 L1011.76,625.09 L1009.06,627.16 L1006.38,629.25 L1003.72,631.36 L1001.09,633.50 L998.47,635.65 L995.88,637.83 L993.31,640.04 L990.76,642.26 L988.24,644.51 L985.74,646.77 L983.26,649.06 L980.81,651.38 L979.18,652.93" stroke-width="5.90" stroke-linecap="round" stroke-dasharray="5.00 14.00 47.36 14.00" stroke-dashoffset="2.50"/>
<path d="M979.18,652.93 L976.76,655.27 L974.37,657.64 L971.99,660.03 L969.64,662.43 L967.31,664.86 L965.00,667.31 L962.71,669.77 L960.44,672.26 L958.19,674.76 L955.96,677.28 L953.76,679.82 L951.57,682.37 L949.40,684.94 L947.25,687.53 L945.12,690.14 L943.00,692.76 L940.91,695.40 L938.83,698.06 L936.77,700.73 L934.73,703.42 L932.71,706.12 L930.71,708.83 L928.72,711.56 L926.74,714.30 L924.79,717.06 L922.85,719.83 L920.93,722.62 L919.02,725.41 L917.13,728.22 L915.25,731.04 L913.39,733.88 L911.54,736.72 L909.71,739.58 L909.40,740.06" stroke-width="5.90" stroke-linecap="round" stroke-dasharray="5.00 14.00 78.89 14.00" stroke-dashoffset="2.50"/>
<path d="M909.40,740.06 L907.59,742.93 L905.79,745.81 L904.00,748.70 L902.22,751.60 L900.46,754.51 L898.71,757.43 L896.98,760.36 L895.25,763.30 L893.54,766.24 L891.84,769.20 L890.16,772.16 L888.48,775.14 L886.82,778.11 L885.16,781.10 L883.52,784.09 L881.89,787.09 L880.27,790.10 L878.66,793.11 L877.06,796.13 L875.47,799.15 L873.88,802.18 L872.31,805.21 L871.79,806.22" stroke-width="5.90" stroke-linecap="round" stroke-dasharray="5.00 14.00 43.14 14.00" stroke-dashoffset="2.50"/>
<path d="M871.79,806.22 L870.23,809.26 L868.67,812.31 L867.13,815.35 L865.59,818.40 L864.07,821.46 L862.55,824.52 L861.03,827.58 L859.53,830.64 L858.03,833.70 L856.54,836.77 L855.05,839.84 L853.58,842.92 L852.11,846.00 L850.65,849.08 L849.19,852.16 L847.74,855.24 L846.30,858.33 L844.86,861.42 L843.44,864.51 L842.01,867.60 L840.60,870.70 L839.19,873.80 L838.72,874.83" stroke-width="5.90" stroke-linecap="round" stroke-dasharray="5.00 14.00 43.17 14.00" stroke-dashoffset="2.50"/>
<path d="M838.72,874.83 L837.32,877.93 L835.92,881.04 L834.53,884.14 L833.15,887.25 L831.77,890.36 L830.40,893.47 L829.03,896.58 L827.67,899.70 L826.32,902.81 L824.97,905.93 L823.62,909.05 L822.29,912.17 L820.95,915.29 L819.62,918.42 L818.30,921.54 L816.98,924.67 L815.66,927.80 L814.35,930.92 L813.05,934.05 L811.75,937.18 L810.45,940.32 L809.16,943.45" stroke-width="5.90" stroke-linecap="round" stroke-dasharray="5.00 14.00 41.72 14.00" stroke-dashoffset="2.50"/>
<path d="M809.16,943.45 L807.87,946.58 L806.59,949.72 L805.31,952.85 L804.03,955.99 L802.76,959.12 L801.49,962.26 L800.23,965.40 L798.97,968.53 L797.71,971.67 L796.46,974.81 L795.21,977.95 L793.96,981.09 L792.72,984.23 L791.48,987.36 L790.24,990.50 L789.00,993.64 L787.77,996.78 L786.54,999.92 L785.32,1003.06 L784.09,1006.20 L782.87,1009.34 L781.65,1012.47 L781.44,1013.00" stroke-width="5.90" stroke-linecap="round" stroke-dasharray="5.00 14.00 41.87 14.00" stroke-dashoffset="2.50"/>
<path d="M781.44,1013.00 L780.22,1016.13 L779.00,1019.27 L777.78,1022.41 L776.56,1025.54 L775.33,1028.68 L774.10,1031.81 L772.87,1034.94 L771.63,1038.07 L770.39,1041.20 L769.15,1044.33 L767.90,1047.46 L766.64,1050.58 L765.38,1053.71 L764.11,1056.83 L762.83,1059.95 L761.55,1063.07 L760.25,1066.19 L758.95,1069.31 L757.64,1072.42 L756.31,1075.53 L754.98,1078.64 L753.63,1081.75 L752.50,1084.34" stroke-width="5.90" stroke-linecap="round" stroke-dasharray="5.00 14.00 43.99 14.00" stroke-dashoffset="2.50"/>
<path d="M752.50,1084.34 L751.13,1087.44 L749.74,1090.54 L748.34,1093.64 L746.93,1096.73 L745.51,1099.82 L744.06,1102.91 L742.60,1106.00 L741.13,1109.08 L739.63,1112.16 L738.12,1115.24 L736.59,1118.32 L735.04,1121.39 L733.48,1124.46 L731.89,1127.52 L730.28,1130.58 L728.65,1133.64 L726.99,1136.69 L725.32,1139.74 L723.62,1142.79 L721.90,1145.83 L720.15,1148.87 L718.68,1151.39" stroke-width="5.90" stroke-linecap="round" stroke-dasharray="5.00 14.00 42.15 14.00" stroke-dashoffset="2.50"/>
<path d="M718.68,1151.39 L716.89,1154.42 L715.07,1157.45 L713.22,1160.47 L711.35,1163.49 L709.45,1166.50 L707.52,1169.50 L705.57,1172.49 L703.58,1175.45 L701.55,1178.37 L699.50,1181.25 L697.40,1184.08 L695.28,1186.86 L693.11,1189.56 L690.90,1192.19 L688.65,1194.74 L686.36,1197.20 L684.02,1199.55 L681.64,1201.80 L679.21,1203.94 L676.73,1205.95 L674.20,1207.82 L671.62,1209.56 L669.43,1210.89" stroke-width="5.90" stroke-linecap="round" stroke-dasharray="5.00 14.00 45.02 14.00" stroke-dashoffset="2.50"/>
<path d="M669.43,1210.89 L666.75,1212.35 L664.02,1213.65 L661.23,1214.77 L658.38,1215.71 L655.47,1216.47 L652.51,1217.03 L649.47,1217.38 L646.38,1217.53 L643.22,1217.45 L640.00,1217.15 L636.73,1216.65 L633.43,1215.95 L630.10,1215.06 L626.76,1214.00 L623.42,1212.78 L620.09,1211.40 L616.79,1209.88 L613.52,1208.23 L610.29,1206.47 L607.13,1204.59 L604.04,1202.61 L601.03,1200.55 L598.11,1198.42 L595.31,1196.22 L593.95,1195.10" stroke-width="5.90" stroke-linecap="round" stroke-dasharray="5.00 14.00 49.36 14.00" stroke-dashoffset="2.50"/>
<path d="M593.95,1195.10 L591.32,1192.82 L588.79,1190.50 L586.34,1188.16 L583.94,1185.79 L581.57,1183.40 L579.20,1181.01 L576.84,1178.61 L574.48,1176.20 L572.13,1173.78 L569.79,1171.35 L567.45,1168.91 L565.12,1166.47 L562.79,1164.02 L560.46,1161.57 L558.14,1159.11 L555.82,1156.64 L553.50,1154.18 L551.19,1151.70 L548.88,1149.23 L546.57,1146.75 L544.26,1144.26 L541.95,1141.78 L539.64,1139.29 L538.88,1138.46" stroke-width="5.90" stroke-linecap="round" stroke-dasharray="5.00 14.00 46.02 14.00" stroke-dashoffset="2.50"/>
<path d="M538.88,1138.46 L536.57,1135.98 L534.26,1133.49 L531.95,1131.00 L529.64,1128.51 L527.33,1126.02 L525.02,1123.53 L522.70,1121.05 L520.39,1118.57 L518.07,1116.09 L515.74,1113.61 L513.41,1111.14 L511.08,1108.67 L508.74,1106.20 L506.40,1103.74 L504.06,1101.29 L501.70,1098.84 L499.34,1096.39 L496.98,1093.96 L494.61,1091.53 L492.23,1089.11 L489.84,1086.70 L487.45,1084.29 L485.04,1081.90 L482.63,1079.51 L482.23,1079.12" stroke-width="5.90" stroke-linecap="round" stroke-dasharray="5.00 14.00 49.05 14.00" stroke-dashoffset="2.50"/>
<path d="M482.23,1079.12 L479.81,1076.74 L477.37,1074.38 L474.93,1072.03 L472.48,1069.69 L470.02,1067.36 L467.54,1065.04 L465.06,1062.74 L462.56,1060.45 L460.05,1058.17 L457.53,1055.91 L454.99,1053.66 L452.44,1051.43 L449.88,1049.22 L447.30,1047.02 L444.71,1044.83 L442.11,1042.67 L439.49,1040.52 L436.85,1038.39 L434.20,1036.28 L431.53,1034.18 L428.84,1032.11 L426.14,1030.05 L424.33,1028.69" stroke-width="5.90" stroke-linecap="round" stroke-dasharray="5.00 14.00 43.84 14.00" stroke-dashoffset="2.50"/>
<path d="M424.33,1028.69 L421.61,1026.66 L418.87,1024.66 L416.12,1022.66 L413.35,1020.69 L410.57,1018.74 L407.77,1016.80 L404.96,1014.88 L402.14,1012.98 L399.31,1011.10 L396.46,1009.23 L393.61,1007.38 L390.74,1005.55 L387.85,1003.74 L384.96,1001.94 L382.06,1000.16 L379.14,998.40 L376.22,996.66 L373.28,994.93 L370.34,993.21 L367.38,991.52 L364.42,989.84 L361.45,988.18 L358.46,986.53 L355.97,985.18" stroke-width="5.90" stroke-linecap="round" stroke-dasharray="5.00 14.00 48.11 14.00" stroke-dashoffset="2.50"/>
<path d="M355.97,985.18 L352.97,983.56 L349.97,981.96 L346.96,980.38 L343.94,978.81 L340.91,977.26 L337.87,975.73 L334.83,974.21 L331.78,972.71 L328.73,971.22 L325.67,969.75 L322.61,968.29 L319.54,966.85 L316.46,965.43 L313.38,964.02 L310.30,962.63 L307.21,961.25 L304.12,959.88 L301.02,958.53 L297.92,957.20 L294.82,955.88 L291.71,954.58" stroke-width="5.90" stroke-linecap="round" stroke-dasharray="5.00 14.00 48.20 14.00" stroke-dashoffset="2.50"/>
</g></g>
<g stroke="#000" fill="none" stroke-linecap="round">
<line x1="1193" y1="1180.6" x2="1376" y2="1180.6" stroke-width="5.4"/>
<line x1="1193" y1="1249.4" x2="1376" y2="1249.4" stroke-width="9.8"/>
<path d="M1193.5,1318.5 H1375" stroke-width="8.3" stroke-dasharray="33.8 21 6.5 21"/>
</g>
<defs><clipPath id="c0" clipPathUnits="userSpaceOnUse"><path clip-rule="evenodd" d="M-50,-109.50 H2920.00 V43.80 H-50 Z M87.38,-9.49 H102.16 V5.84 H87.38 Z M112.31,-9.49 H124.98 V5.84 H112.31 Z"/></clipPath><clipPath id="c1" clipPathUnits="userSpaceOnUse"><path clip-rule="evenodd" d="M-50,-109.50 H2920.00 V43.80 H-50 Z M63.07,-9.49 H77.85 V5.84 H63.07 Z M88.00,-9.49 H100.67 V5.84 H88.00 Z"/></clipPath><clipPath id="c2" clipPathUnits="userSpaceOnUse"><path clip-rule="evenodd" d="M-50,-109.50 H2920.00 V43.80 H-50 Z M2.19,-9.49 H16.97 V5.84 H2.19 Z M27.12,-9.49 H39.79 V5.84 H27.12 Z"/></clipPath><clipPath id="c3" clipPathUnits="userSpaceOnUse"><path clip-rule="evenodd" d="M-50,-109.50 H2920.00 V43.80 H-50 Z M26.50,-9.49 H41.28 V5.84 H26.50 Z M51.43,-9.49 H64.09 V5.84 H51.43 Z"/></clipPath><clipPath id="c4" clipPathUnits="userSpaceOnUse"><path clip-rule="evenodd" d="M-50,-66.00 H1760.00 V26.40 H-50 Z M1.32,-5.72 H10.23 V3.52 H1.32 Z M16.35,-5.72 H23.98 V3.52 H16.35 Z"/></clipPath></defs>
<text transform="translate(311.50,1489.50) scale(1.2600,1)" font-size="73.00" clip-path="url(#c0)">-0.1</text>
<text transform="translate(595.30,1489.50) scale(1.2600,1)" font-size="73.00">0.0</text>
<text transform="translate(866.90,1489.50) scale(1.2600,1)" font-size="73.00" clip-path="url(#c1)">0.1</text>
<text transform="translate(1138.20,1489.50) scale(1.2600,1)" font-size="73.00">0.2</text>
<text transform="translate(1409.40,1489.50) scale(1.2600,1)" font-size="73.00">0.3</text>
<text transform="translate(1681.30,1489.50) scale(1.2600,1)" font-size="73.00">0.4</text>
<text transform="translate(1955.70,1489.50) scale(1.2600,1)" font-size="73.00">0.5</text>
<text transform="translate(192.80,243.50) scale(1.2600,1)" font-size="73.00">200</text>
<text transform="translate(194.50,486.50) scale(1.2600,1)" font-size="73.00" clip-path="url(#c2)">100</text>
<text transform="translate(279.90,732.00) scale(1.2600,1)" font-size="73.00">0</text>
<text transform="translate(170.00,976.50) scale(1.2600,1)" font-size="73.00" clip-path="url(#c3)">-100</text>
<text transform="translate(170.00,1221.00) scale(1.2600,1)" font-size="73.00">-200</text>
<text transform="translate(1397.00,1201.30) scale(1.3070,1)" font-size="44.00">Commercial GRT SPE</text>
<text transform="translate(1397.00,1270.60) scale(1.3070,1)" font-size="44.00">CNO/GRT SPE</text>
<text transform="translate(1398.90,1339.80) scale(1.3070,1)" font-size="44.00" clip-path="url(#c4)">1-D Simulation</text>
<text transform="translate(828.40,1588.00) scale(1.2530,1)" font-size="86.00">E (V) <tspan font-style="italic">vs</tspan> <tspan dx="-6.5">Ag/AgCl</tspan></text>
<text transform="translate(116.70,1252.60) rotate(-90) scale(1,1.3850)" font-size="81.00" letter-spacing="1.27">Current Density(μ<tspan dx="-13">A/cm</tspan><tspan dx="1.5" dy="-39" font-size="50">2</tspan><tspan dx="-2" dy="39">)</tspan></text>
<rect x="0" y="1606.7" width="2098" height="30" fill="#fff"/>
</svg></body></html>
